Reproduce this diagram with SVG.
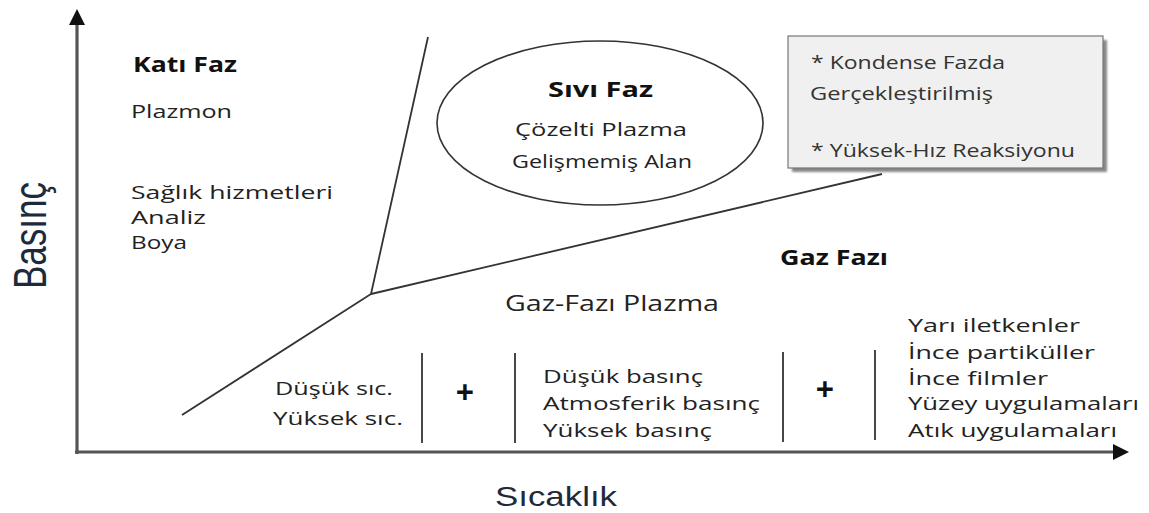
<svg xmlns="http://www.w3.org/2000/svg" width="1149" height="513" viewBox="0 0 1149 513">
<defs>
<marker id="ah" markerUnits="userSpaceOnUse" markerWidth="17" markerHeight="16" refX="0" refY="8" orient="auto">
<path d="M0,0 L16,8 L0,16 z" fill="#111"/>
</marker>
<filter id="blur" x="-5%" y="-5%" width="110%" height="110%"><feGaussianBlur stdDeviation="1.2"/></filter>
<style>
text{font-family:"Open Sans","Liberation Sans",sans-serif;fill:#222;}
.t{font-size:19px;}
.b{font-size:22px;font-weight:bold;fill:#111;}
.bx{font-size:18px;fill:#333;}
.ln{stroke:#333;stroke-width:1.8;fill:none;}
.sep{stroke:#333;stroke-width:1.8;}
.ax{stroke:#555;stroke-width:3.2;fill:none;marker-end:url(#ah);}
.plus{font-size:32px;font-weight:bold;fill:#111;}
.axt{font-family:"Liberation Sans","Open Sans",sans-serif;fill:#1e2a3a;}
</style>
</defs>
<rect width="1149" height="513" fill="#fff"/>

<g id="axes">
<line class="ax" x1="77" y1="454" x2="77" y2="25"/>
<line class="ax" x1="75" y1="452" x2="1113" y2="452"/>
<text id="basinc" class="axt" transform="translate(46,289) rotate(-90)" style="font-size:46px" textLength="107" lengthAdjust="spacingAndGlyphs">Basınç</text>
<text id="sicaklik" class="axt" x="495" y="506" style="font-size:28px" textLength="122" lengthAdjust="spacingAndGlyphs">Sıcaklık</text>
</g>

<g id="connectors">
<polyline class="ln" points="182,415 371,294 428,37"/>
<line class="ln" x1="371" y1="294" x2="882" y2="174"/>
<line class="sep" x1="422" y1="353" x2="422" y2="443"/>
<line class="sep" x1="515" y1="353" x2="515" y2="443"/>
<line class="sep" x1="783" y1="352" x2="783" y2="442"/>
<line class="sep" x1="875" y1="350" x2="875" y2="440"/>
</g>

<g id="kati-faz">
<text class="b" x="133" y="72" textLength="104" lengthAdjust="spacingAndGlyphs">Katı Faz</text>
<text class="t" x="131" y="118" textLength="101" lengthAdjust="spacingAndGlyphs">Plazmon</text>
<text class="t" x="131" y="199" textLength="202" lengthAdjust="spacingAndGlyphs">Sağlık hizmetleri</text>
<text class="t" x="131" y="224" textLength="75" lengthAdjust="spacingAndGlyphs">Analiz</text>
<text class="t" x="131" y="249" textLength="56" lengthAdjust="spacingAndGlyphs">Boya</text>
</g>

<g id="sivi-faz">
<ellipse cx="600" cy="123" rx="163" ry="82" fill="none" stroke="#333" stroke-width="1.6"/>
<text class="b" x="548" y="97" textLength="105" lengthAdjust="spacingAndGlyphs">Sıvı Faz</text>
<text class="t" x="515" y="136" textLength="172" lengthAdjust="spacingAndGlyphs">Çözelti Plazma</text>
<text class="t" x="512" y="168" textLength="180" lengthAdjust="spacingAndGlyphs">Gelişmemiş Alan</text>
</g>

<g id="kondense">
<rect x="792" y="40" width="315" height="132" fill="#888" filter="url(#blur)"/>
<rect x="788" y="36" width="315" height="132" fill="#f0f0f0" stroke="#777" stroke-width="1.2"/>
<text class="bx" x="811" y="69" textLength="194" lengthAdjust="spacingAndGlyphs">* Kondense Fazda</text>
<text class="bx" x="810" y="100" textLength="183" lengthAdjust="spacingAndGlyphs">Gerçekleştirilmiş</text>
<text class="bx" x="811" y="157" textLength="264" lengthAdjust="spacingAndGlyphs">* Yüksek-Hız Reaksiyonu</text>
</g>

<g id="gaz-fazi">
<text class="b" style="font-size:21px" x="780" y="265" textLength="108" lengthAdjust="spacingAndGlyphs">Gaz Fazı</text>
<text class="t" style="font-size:21px" x="505" y="311" textLength="214" lengthAdjust="spacingAndGlyphs">Gaz-Fazı Plazma</text>
</g>

<g id="sicaklik-grup">
<text class="t" x="275" y="395" textLength="118" lengthAdjust="spacingAndGlyphs">Düşük sıc.</text>
<text class="t" x="273" y="425" textLength="130" lengthAdjust="spacingAndGlyphs">Yüksek sıc.</text>
</g>
<g id="arti-1"><text class="plus" x="465" y="404" text-anchor="middle">+</text></g>

<g id="basinc-grup">
<text class="t" x="543" y="383" textLength="160" lengthAdjust="spacingAndGlyphs">Düşük basınç</text>
<text class="t" x="543" y="410" textLength="217" lengthAdjust="spacingAndGlyphs">Atmosferik basınç</text>
<text class="t" x="543" y="437" textLength="169" lengthAdjust="spacingAndGlyphs">Yüksek basınç</text>
</g>
<g id="arti-2"><text class="plus" x="825" y="401" text-anchor="middle">+</text></g>

<g id="uygulama-grup">
<text class="t" x="908" y="332" textLength="172" lengthAdjust="spacingAndGlyphs">Yarı iletkenler</text>
<text class="t" x="908" y="359" textLength="187" lengthAdjust="spacingAndGlyphs">İnce partiküller</text>
<text class="t" x="908" y="385" textLength="140" lengthAdjust="spacingAndGlyphs">İnce filmler</text>
<text class="t" x="908" y="410" textLength="231" lengthAdjust="spacingAndGlyphs">Yüzey uygulamaları</text>
<text class="t" x="908" y="437" textLength="209" lengthAdjust="spacingAndGlyphs">Atık uygulamaları</text>
</g>
</svg>
